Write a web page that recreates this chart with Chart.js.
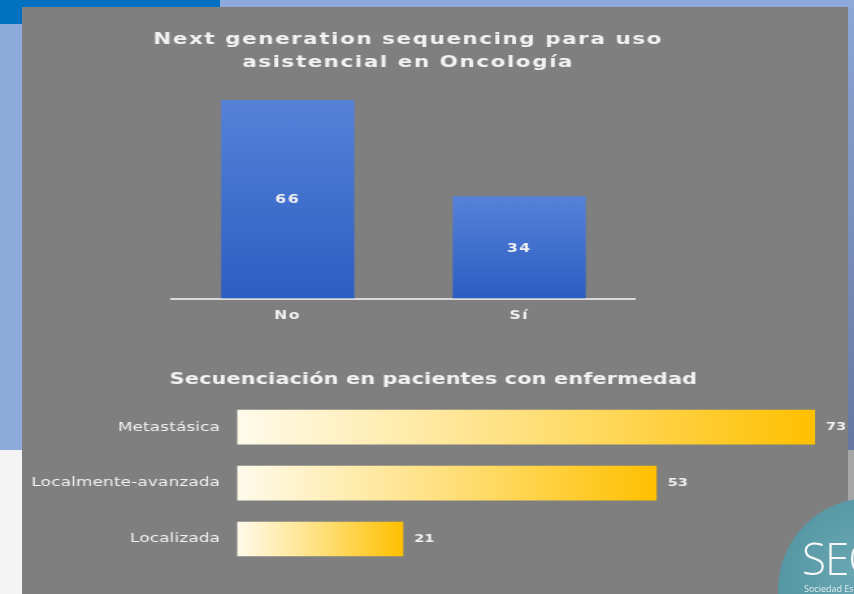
<!DOCTYPE html>
<html>
<head>
<meta charset="utf-8">
<script src="https://cdn.jsdelivr.net/npm/chart.js@4"></script>
<style>
  html, body { margin: 0; padding: 0; }
  body { width: 854px; height: 594px; overflow: hidden; position: relative; background: #f4f4f4; font-family: 'DejaVu Sans', sans-serif; }
  #band { position: absolute; left: 0; top: 0; width: 854px; height: 450px; background: #8eaadb; }
  #rightStrip { position: absolute; left: 848px; top: 7px; width: 6px; height: 443px; background: linear-gradient(#8da6d6, #6577a0); }
  #rightLow { position: absolute; left: 848px; top: 450px; width: 6px; height: 144px; background: #a6a6a6; }
  #tab { position: absolute; left: 0; top: 0; width: 220px; height: 24px; background: #0070c0; }
  #panel { position: absolute; left: 22px; top: 7px; width: 826px; height: 587px; background: #7f7f7f; }
  #logo { position: absolute; left: 778px; top: 498px; width: 184px; height: 184px; border-radius: 50%;
          background: radial-gradient(circle at 45% 40%, #6aa8b2, #45899a); overflow: hidden; }
  #logo .big { position: absolute; left: 24px; top: 30px; color: #f4f8f8; font: 300 44px 'Open Sans', sans-serif; letter-spacing: -1px; }
  #logo .small { position: absolute; left: 26px; top: 84px; color: #e0eef0; font: 400 9px 'Open Sans', sans-serif; }
  /* the slide is stretched sideways, so the charts are too */
  .wide { position: absolute; left: 22px; transform: scaleX(1.3); transform-origin: 0 0; }
  #topWrap { top: 7px; }
  #bottomWrap { top: 350px; }
  canvas { display: block; }
</style>
</head>
<body>
<div id="band"></div>
<div id="rightStrip"></div>
<div id="rightLow"></div>
<div id="tab"></div>
<div id="panel"></div>
<div class="wide" id="topWrap"><canvas id="topChart" width="594" height="330"></canvas></div>
<div class="wide" id="bottomWrap"><canvas id="bottomChart" width="633" height="244"></canvas></div>
<div id="logo"><span class="big">SEOM</span><span class="small">Sociedad Española de Oncología Médica</span></div>

<script>
// data
const topTitle = ["Next generation sequencing para uso", "asistencial en Oncología"];
const topLabels = ["No", "Sí"];
const topValues = [66, 34];

const bottomTitle = "Secuenciación en pacientes con enfermedad";
const bottomLabels = ["Metastásica", "Localmente-avanzada", "Localizada"];
const bottomValues = [73, 53, 21];

const stretch = 1.3; // same as the css scaleX

Chart.defaults.font.family = "'DejaVu Sans', sans-serif";
Chart.defaults.color = "#f2f2f2";

// empty side axis, only used to reserve room so the title stays centred
function spacer(width, position) {
  return {
    type: "linear",
    axis: "y",
    position: position,
    grid: { display: false, drawTicks: false },
    border: { display: false },
    ticks: { display: false },
    afterFit: (s) => { s.width = width; }
  };
}

// letter spacing on the canvas
const spacing = {
  id: "spacing",
  beforeDraw(chart, args, opts) {
    chart.ctx.letterSpacing = opts.px + "px";
  }
};

// numbers on the bars
const valueLabels = {
  id: "valueLabels",
  afterDatasetsDraw(chart, args, opts) {
    const ctx = chart.ctx;
    const meta = chart.getDatasetMeta(0);
    const values = chart.data.datasets[0].data;
    ctx.save();
    ctx.font = "bold " + opts.size + "px 'DejaVu Sans', sans-serif";
    ctx.fillStyle = "#f2f2f2";
    ctx.textBaseline = "middle";
    meta.data.forEach((bar, i) => {
      if (opts.inside) {
        ctx.textAlign = "center";
        ctx.fillText(values[i], bar.x, (bar.y + bar.base) / 2 + 1);
      } else {
        ctx.textAlign = "left";
        ctx.fillText(values[i], bar.x + 11 / stretch, bar.y);
      }
    });
    ctx.restore();
  }
};

new Chart(document.getElementById("topChart"), {
  type: "bar",
  data: {
    labels: topLabels,
    datasets: [{
      data: topValues,
      backgroundColor: (c) => {
        const chart = c.chart;
        if (!chart.chartArea || c.type !== "data") return "#3d6ccb";
        const y = chart.scales.y;
        const g = chart.ctx.createLinearGradient(0, y.getPixelForValue(c.raw), 0, y.getPixelForValue(0));
        g.addColorStop(0, "#5682d8");
        g.addColorStop(1, "#2c5dc3");
        return g;
      },
      barPercentage: 0.575,
      categoryPercentage: 1
    }]
  },
  options: {
    responsive: false,
    animation: false,
    devicePixelRatio: 1,
    layout: { padding: { left: 0, right: 0, top: 0, bottom: 4 } },
    plugins: {
      legend: { display: false },
      tooltip: { enabled: false },
      title: {
        display: true,
        text: topTitle,
        color: "#f2f2f2",
        font: { size: 16.5, weight: "bold", lineHeight: 1.4 },
        padding: { top: 21.5, bottom: 13.3 }
      },
      spacing: { px: 1.2 },
      valueLabels: { inside: true, size: 12 }
    },
    scales: {
      y: Object.assign(spacer(150 / stretch, "left"), { min: 0, max: 70 }),
      yRight: spacer(594 - 613 / stretch, "right"),
      x: {
        grid: { display: false, drawTicks: false },
        border: { display: true, color: "#d9d9d9", width: 2 },
        ticks: { color: "#f2f2f2", font: { size: 12, weight: "bold" }, padding: 10 }
      }
    }
  },
  plugins: [spacing, valueLabels]
});

new Chart(document.getElementById("bottomChart"), {
  type: "bar",
  data: {
    labels: bottomLabels,
    datasets: [{
      data: bottomValues,
      backgroundColor: (c) => {
        const chart = c.chart;
        if (!chart.chartArea || c.type !== "data") return "#ffc000";
        const x = chart.scales.x;
        const g = chart.ctx.createLinearGradient(x.getPixelForValue(0), 0, x.getPixelForValue(c.raw), 0);
        g.addColorStop(0, "#fffbec");
        g.addColorStop(0.5, "#ffe07c");
        g.addColorStop(1, "#ffc000");
        return g;
      },
      barPercentage: 0.62,
      categoryPercentage: 1
    }]
  },
  options: {
    indexAxis: "y",
    responsive: false,
    animation: false,
    devicePixelRatio: 1,
    layout: { padding: { left: 0, right: 0, top: 0, bottom: 27 } },
    plugins: {
      legend: { display: false },
      tooltip: { enabled: false },
      title: {
        display: true,
        text: bottomTitle,
        color: "#f2f2f2",
        font: { size: 16, weight: "bold", lineHeight: 1.2 },
        padding: { top: 20.5, bottom: 9.5 }
      },
      spacing: { px: 0.1 },
      valueLabels: { inside: false, size: 11 }
    },
    scales: {
      x: { display: false, min: 0, max: 73 },
      y: {
        grid: { display: false, drawTicks: false },
        border: { display: false },
        ticks: { color: "#f2f2f2", font: { size: 13 }, padding: 13 },
        afterFit: (s) => { s.width = 215 / stretch; }
      },
      yRight: spacer(633 - 793 / stretch, "right")
    }
  },
  plugins: [spacing, valueLabels]
});
</script>
</body>
</html>
